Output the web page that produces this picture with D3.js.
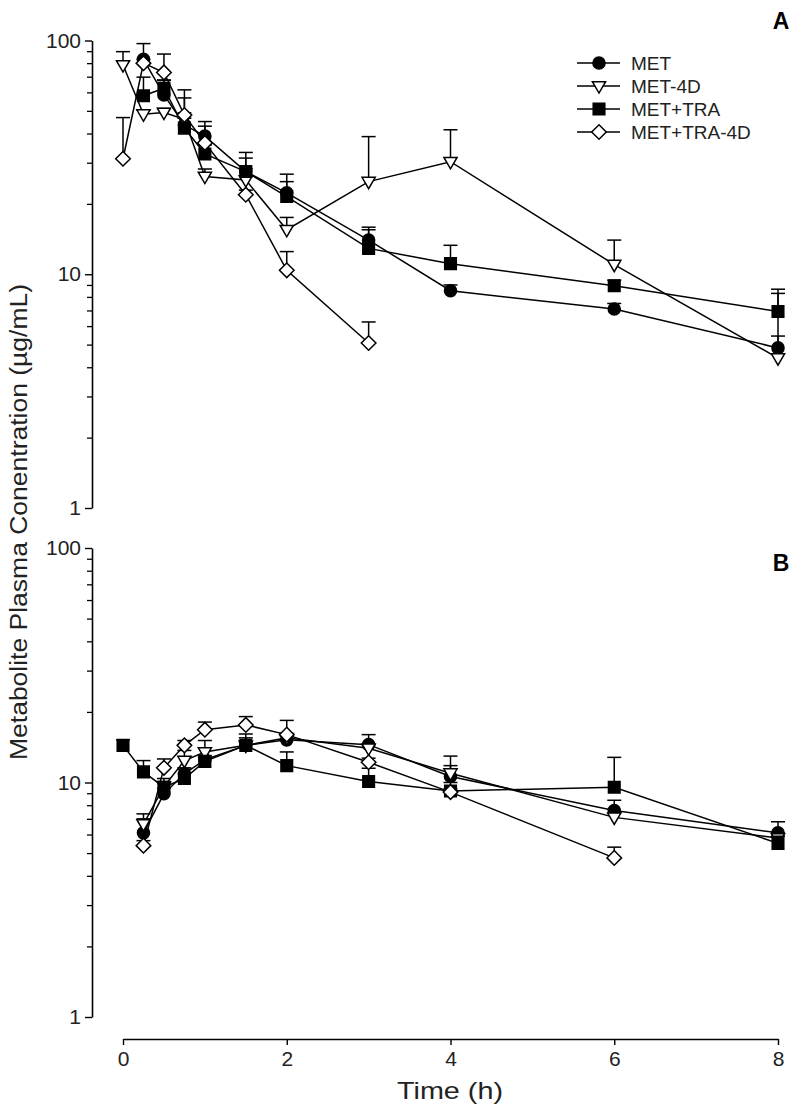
<!DOCTYPE html>
<html>
<head>
<meta charset="utf-8">
<script src="https://cdn.jsdelivr.net/npm/d3@7/dist/d3.min.js"></script>
<style>
  html, body { margin: 0; padding: 0; background: #fff; }
  svg { display: block; font-family: "Liberation Sans", Arial, sans-serif; }
</style>
</head>
<body>
<svg id="chart" width="795" height="1116"></svg>
<script>
// ---------- data ----------
const times = [0, 0.25, 0.5, 0.75, 1, 1.5, 2, 3, 4, 6, 8];
const seriesNames = ["MET", "MET-4D", "MET+TRA", "MET+TRA-4D"];
const xTickValues = [0, 2, 4, 6, 8];
const yMajorTicks = [1, 10, 100];
const panelLabels = ["A", "B"];

// Panel A (mean, upper SD)
const metA       = [null, 83, 58.5, 43.5, 39, 27.5, 22.3, 14.0, 8.5, 7.1, 4.84];
const metA_sd    = [null, 14, 9, 3, 6, 3.9, 2.6, 1.9, 0.5, 0.4, 0.6];
const met4dA     = [78.6, 48.4, 49.2, 46, 26.2, 25.3, 15.5, 24.9, 30.3, 11.0, 4.38];
const met4dA_sd  = [11, 2, 2, 3, 2, 3, 2, 13.9, 11.2, 3.0, 3.9];
const traA       = [null, 58, 62.5, 42.2, 32.7, 27.5, 21.5, 12.9, 11.1, 8.93, 6.93];
const traA_sd    = [null, 11.7, 5.3, 14.6, 3, 5.7, 5.3, 2.6, 2.2, 0.5, 1.7];
const tra4dA     = [31.2, 80, 73, 48, 36.4, 21.9, 10.4, 5.08, null, null, null];
const tra4dA_sd  = [15.6, 3, 14.5, 13.5, 6.6, 1, 2.1, 1.17, null, null, null];

// Panel B (mean, upper SD)
const metB       = [null, 6.1, 8.95, 10.9, 12.5, 14.4, 15.2, 14.5, 10.6, 7.6, 6.1];
const metB_sd    = [null, 0.9, 0.5, 0.5, 0.5, 1.1, 0.5, 1.5, 1.2, 0.8, 0.7];
const met4dB     = [null, 6.65, 9.6, 12.4, 13.5, 14.4, 15.5, 14.0, 10.96, 7.1, 5.8];
const met4dB_sd  = [null, 0.7, 0.5, 1.3, 1.6, 1.7, 0.5, 0.5, 2.0, 0.3, 0.3];
const traB       = [14.4, 11.1, 9.55, 10.4, 12.3, 14.4, 11.8, 10.1, 9.2, 9.55, 5.5];
const traB_sd    = [0.8, 1.3, 0.85, 1.15, 0.5, 0.5, 1.7, 1.4, 0.8, 3.25, 0.4];
const tra4dB     = [null, 5.38, 11.55, 14.4, 16.8, 17.6, 16.0, 12.2, 9.1, 4.77, null];
const tra4dB_sd  = [null, 0.27, 1.05, 0.7, 1.3, 1.5, 2.4, 0.5, 0.3, 0.53, null];

// ---------- layout ----------
const svg = d3.select("#chart");
const x = d3.scaleLinear().domain([0, 8]).range([123, 778]);
const yAxisX = 92;
const panels = [
  { label: panelLabels[0], top: 40.5, bottom: 508, labelY: 29,
    data: [[metA, metA_sd], [met4dA, met4dA_sd], [traA, traA_sd], [tra4dA, tra4dA_sd]] },
  { label: panelLabels[1], top: 548, bottom: 1017, labelY: 571,
    data: [[metB, metB_sd], [met4dB, met4dB_sd], [traB, traB_sd], [tra4dB, tra4dB_sd]] }
];

const shapes = ["circle", "triangle", "square", "diamond"];
const fills = ["#000", "#fff", "#000", "#fff"];

function markerPath(shape) {
  switch (shape) {
    case "circle": return d3.symbol(d3.symbolCircle, 115)();
    case "square": return "M-5.8,-5.8H5.8V5.8H-5.8Z";
    case "diamond": return "M0,-7.3L7.3,0L0,7.3L-7.3,0Z";
    case "triangle": return "M-6.6,-4.3H6.6L0,7.1Z";
  }
}

const minorTicks = [];
[1, 10].forEach(dec => { for (let k = 2; k <= 9; k++) minorTicks.push(dec * k); });

panels.forEach(p => {
  const y = d3.scaleLog().domain([1, 100]).range([p.bottom, p.top]);
  const g = svg.append("g");

  // minor ticks
  const minor = g.append("g").attr("transform", `translate(${yAxisX},0)`)
    .call(d3.axisLeft(y).tickValues(minorTicks).tickSize(5).tickFormat(""));
  minor.select(".domain").remove();
  minor.selectAll("line").attr("stroke", "#000").attr("stroke-width", 1.3);

  // major axis
  const major = g.append("g").attr("transform", `translate(${yAxisX},0)`)
    .call(d3.axisLeft(y).tickValues(yMajorTicks).tickSize(7).tickSizeOuter(0).tickPadding(4).tickFormat(d3.format("d")));
  major.select(".domain").attr("stroke", "#000").attr("stroke-width", 1.6);
  major.selectAll("line").attr("stroke", "#000").attr("stroke-width", 1.4);
  major.selectAll("text").attr("font-size", 21).attr("fill", "#222")
    .attr("font-family", "'Liberation Sans', Arial, sans-serif");

  // panel label
  g.append("text").attr("x", 781).attr("y", p.labelY).attr("text-anchor", "middle")
    .attr("font-size", 23).attr("font-weight", "bold").text(p.label);

  // series
  p.data.forEach((sd, si) => {
    const vals = sd[0], errs = sd[1];
    const pts = times.map((t, i) => ({ t, v: vals[i], e: errs[i] })).filter(d => d.v != null);
    const sg = g.append("g");

    // error bars (upper)
    pts.filter(d => d.e != null && d.e > 0).forEach(d => {
      const px = x(d.t), y0 = y(d.v), y1 = y(d.v + d.e);
      sg.append("line").attr("x1", px).attr("x2", px).attr("y1", y0).attr("y2", y1)
        .attr("stroke", "#000").attr("stroke-width", 1.5);
      sg.append("line").attr("x1", px - 7).attr("x2", px + 7).attr("y1", y1).attr("y2", y1)
        .attr("stroke", "#000").attr("stroke-width", 1.5);
    });

    // line
    const line = d3.line().x(d => x(d.t)).y(d => y(d.v));
    sg.append("path").datum(pts).attr("d", line).attr("fill", "none")
      .attr("stroke", "#000").attr("stroke-width", 1.5);

    // markers
    sg.selectAll(".m").data(pts).enter().append("path")
      .attr("transform", d => `translate(${x(d.t)},${y(d.v)})`)
      .attr("d", markerPath(shapes[si]))
      .attr("fill", fills[si]).attr("stroke", "#000").attr("stroke-width", 1.5);
  });
});

// x axis
const xg = svg.append("g").attr("transform", "translate(0,1039)")
  .call(d3.axisBottom(x).tickValues(xTickValues).tickSize(6).tickSizeOuter(0).tickPadding(6).tickFormat(d3.format("d")));
xg.select(".domain").attr("stroke", "#000").attr("stroke-width", 1.6);
xg.selectAll("line").attr("stroke", "#000").attr("stroke-width", 1.4);
xg.selectAll("text").attr("font-size", 21).attr("fill", "#222")
  .attr("font-family", "'Liberation Sans', Arial, sans-serif");

svg.append("text").attr("x", 450).attr("y", 1099).attr("text-anchor", "middle")
  .attr("font-size", 24).attr("fill", "#222")
  .attr("textLength", 106).attr("lengthAdjust", "spacingAndGlyphs")
  .text("Time (h)");

svg.append("text")
  .attr("transform", "translate(27,522) rotate(-90)")
  .attr("text-anchor", "middle").attr("font-size", 23).attr("fill", "#222")
  .attr("textLength", 476).attr("lengthAdjust", "spacingAndGlyphs")
  .text("Metabolite Plasma Conentration (µg/mL)");

// legend
const legend = svg.append("g");
seriesNames.forEach((name, i) => {
  const ly = 63 + i * 23;
  legend.append("line").attr("x1", 577).attr("x2", 620).attr("y1", ly).attr("y2", ly)
    .attr("stroke", "#000").attr("stroke-width", 1.5);
  legend.append("path").attr("transform", `translate(599,${ly})`)
    .attr("d", markerPath(shapes[i])).attr("fill", fills[i])
    .attr("stroke", "#000").attr("stroke-width", 1.5);
  legend.append("text").attr("x", 631).attr("y", ly + 7).attr("font-size", 19)
    .attr("fill", "#222").text(name);
});
</script>
</body>
</html>
